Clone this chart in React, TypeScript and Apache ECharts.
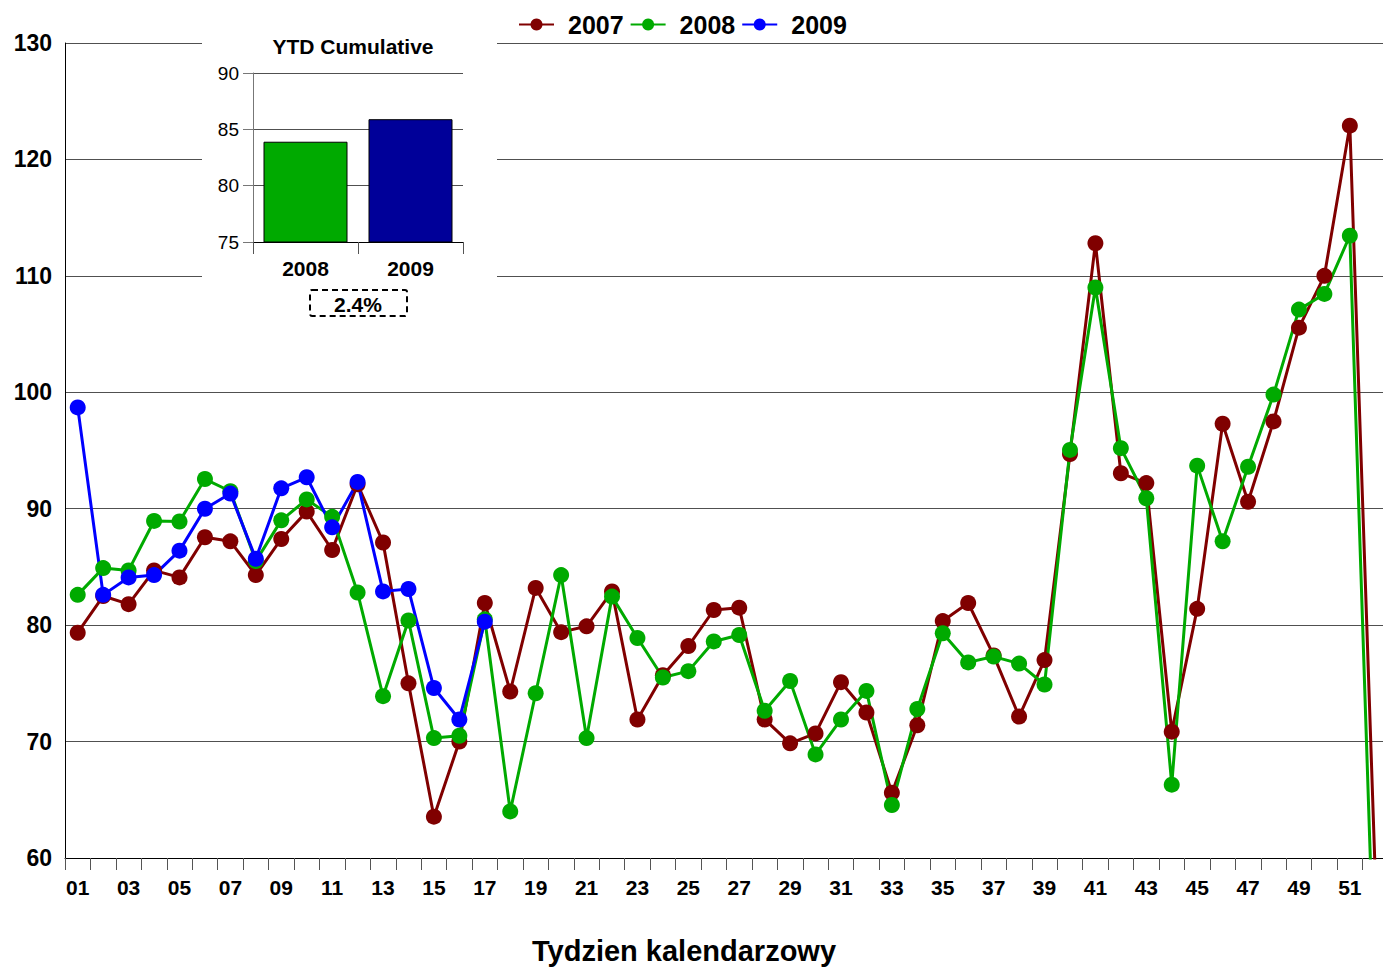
import React, { useEffect, useRef } from "react";
import * as echarts from "echarts";

const weeks: string[] = Array.from({ length: 52 }, (_, i) => String(i + 1).padStart(2, "0"));

const s2007: number[] = [
  79.35, 82.5, 81.8, 84.7, 84.1, 87.55, 87.2, 84.3, 87.4, 89.75,
  86.45, 92.1, 87.1, 75.0, 63.55, 70.0, 81.9, 74.3, 83.2, 79.4,
  79.9, 82.9, 71.9, 75.7, 78.2, 81.3, 81.5, 71.9, 69.85, 70.7,
  75.1, 72.5, 65.6, 71.4, 80.35, 81.9, 77.4, 72.15, 77.0, 94.7,
  112.8, 93.05, 92.2, 70.85, 81.4, 97.3, 90.6, 97.5, 105.55, 110.0,
  122.9, 58.5,
];

const s2008: number[] = [
  82.6, 84.9, 84.7, 88.95, 88.9, 92.55, 91.5, 85.5, 89.0, 90.8,
  89.3, 82.8, 73.9, 80.4, 70.3, 70.5, 80.5, 64.0, 74.15, 84.3,
  70.3, 82.45, 78.9, 75.5, 76.05, 78.6, 79.15, 72.65, 75.2, 68.9,
  71.9, 74.35, 64.55, 72.8, 79.3, 76.8, 77.3, 76.7, 74.9, 95.05,
  109.0, 95.2, 90.9, 66.3, 93.7, 87.2, 93.6, 99.8, 107.1, 108.45,
  113.45, 47.0,
];

const s2009: number[] = [
  98.7, 82.6, 84.1, 84.3, 86.4, 90.0, 91.3, 85.7, 91.75, 92.7,
  88.4, 92.3, 82.9, 83.1, 74.6, 71.9, 80.3,
];

const seriesNames: string[] = ["2007", "2008", "2009"];
const seriesColors: string[] = ["#800000", "#00AA00", "#0000FF"];

const ytdYears: string[] = ["2008", "2009"];
const ytdValues: number[] = [83.9, 85.9];
const ytdColors: string[] = ["#00AA00", "#000099"];

const xAxisTitle = "Tydzien kalendarzowy";
const insetTitle = "YTD Cumulative";

const FONT = "'Liberation Sans', Arial, sans-serif";

export default function App() {
  const ref = useRef<HTMLDivElement>(null);

  useEffect(() => {
    if (!ref.current) return;
    const chart = echarts.init(ref.current, undefined, { renderer: "svg" });
    const change = ((ytdValues[1] / ytdValues[0] - 1) * 100).toFixed(1) + "%";
    const data = [s2007, s2008, s2009];

    const option: any = {
      animation: false,
      backgroundColor: "#fff",
      textStyle: { fontFamily: FONT },
      legend: {
        data: seriesNames,
        left: 518,
        top: 12,
        padding: 0,
        itemWidth: 35,
        itemHeight: 15,
        itemGap: 6,
        textStyle: { fontSize: 25, fontWeight: "bold", color: "#000", fontFamily: FONT, padding: [0, 0, 0, 9] },
      },
      grid: [
        { left: 65, right: 0, top: 43, bottom: 109 },
        { left: 253, top: 73, width: 210, height: 169, z: 20 },
      ],
      xAxis: [
        {
          type: "category",
          gridIndex: 0,
          data: weeks,
          boundaryGap: true,
          axisLine: { lineStyle: { color: "#000", width: 1 } },
          axisTick: { show: true, interval: 0, length: 12, lineStyle: { color: "#555" } },
          axisLabel: { interval: 1, fontSize: 21, fontWeight: "bold", color: "#000", margin: 19 },
          splitLine: { show: false },
        },
        {
          type: "category",
          gridIndex: 1,
          data: ytdYears,
          z: 20,
          axisLine: { lineStyle: { color: "#000", width: 1 } },
          axisTick: { show: true, length: 12, lineStyle: { color: "#555" } },
          axisLabel: { fontSize: 21, fontWeight: "bold", color: "#000", margin: 16 },
        },
      ],
      yAxis: [
        {
          type: "value",
          gridIndex: 0,
          min: 60,
          max: 130,
          interval: 10,
          axisLine: { show: true, lineStyle: { color: "#000", width: 1 } },
          axisTick: { show: false },
          splitLine: { show: true, lineStyle: { color: "#505050", width: 1 } },
          axisLabel: { fontSize: 23, fontWeight: "bold", color: "#000", margin: 13 },
        },
        {
          type: "value",
          gridIndex: 1,
          min: 75,
          max: 90,
          interval: 5,
          z: 20,
          axisLine: { show: true, lineStyle: { color: "#777", width: 1 } },
          axisTick: { show: true, length: 10, lineStyle: { color: "#777" } },
          splitLine: { show: true, lineStyle: { color: "#505050", width: 1 } },
          axisLabel: { fontSize: 19, color: "#000", margin: 14 },
        },
      ],
      series: [
        ...seriesNames.map((name, i) => ({
          name,
          type: "line",
          xAxisIndex: 0,
          yAxisIndex: 0,
          data: data[i],
          symbol: "circle",
          symbolSize: 16,
          color: seriesColors[i],
          lineStyle: { width: 3, color: seriesColors[i] },
          itemStyle: { color: seriesColors[i] },
          clip: true,
        })),
        {
          name: "YTD",
          type: "bar",
          xAxisIndex: 1,
          yAxisIndex: 1,
          z: 20,
          barCategoryGap: "20%",
          data: ytdValues.map((v, i) => ({
            value: v,
            itemStyle: { color: ytdColors[i], borderColor: "#000", borderWidth: 1 },
          })),
        },
      ],
      graphic: [
        {
          type: "rect",
          z: 10,
          shape: { x: 202, y: 30, width: 295, height: 292 },
          style: { fill: "#fff" },
        },
        {
          type: "text",
          z: 21,
          x: 353,
          y: 46,
          style: {
            text: insetTitle,
            fontSize: 21,
            fontWeight: "bold",
            fill: "#000",
            align: "center",
            verticalAlign: "middle",
            fontFamily: FONT,
          },
        },
        {
          type: "rect",
          z: 21,
          shape: { x: 310, y: 290, width: 97, height: 26, r: 2 },
          style: { fill: "#fff", stroke: "#000", lineWidth: 2, lineDash: [6, 4] },
        },
        {
          type: "text",
          z: 22,
          x: 358,
          y: 304,
          style: {
            text: change,
            fontSize: 21,
            fontWeight: "bold",
            fill: "#000",
            align: "center",
            verticalAlign: "middle",
            fontFamily: FONT,
          },
        },
        {
          type: "text",
          z: 22,
          x: 684,
          y: 951,
          style: {
            text: xAxisTitle,
            fontSize: 29,
            fontWeight: "bold",
            fill: "#000",
            align: "center",
            verticalAlign: "middle",
            fontFamily: FONT,
          },
        },
      ],
    };

    chart.setOption(option);
    return () => chart.dispose();
  }, []);

  return (
    <div style={{ position: "absolute", left: 0, top: 0, width: 1383, height: 967, overflow: "hidden" }}>
      <div ref={ref} style={{ width: 1388, height: 967 }} />
    </div>
  );
}
